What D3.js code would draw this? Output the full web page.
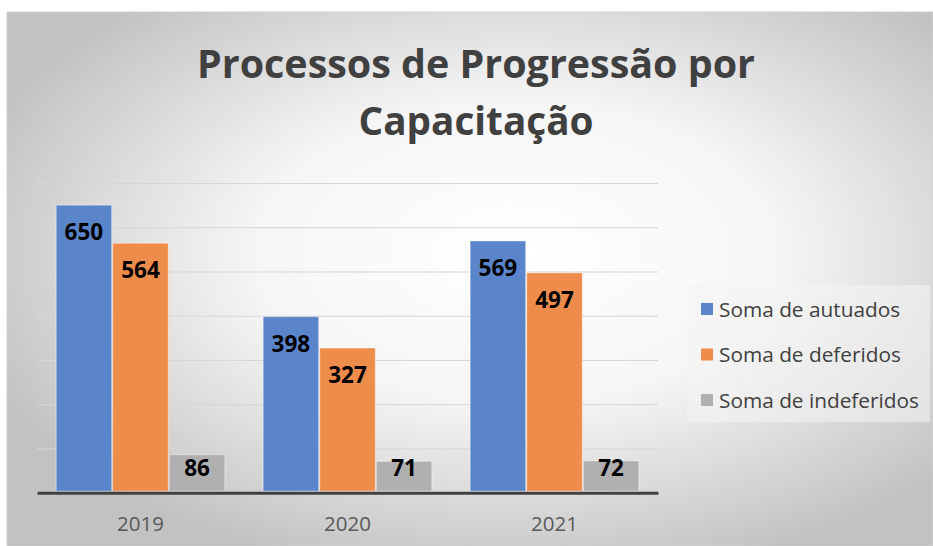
<!DOCTYPE html>
<html>
<head>
<meta charset="utf-8">
<script src="https://cdn.jsdelivr.net/npm/d3@7"></script>
<style>
  html, body { margin: 0; padding: 0; background: #fff; }
  svg { display: block; }
</style>
</head>
<body>
<svg id="chart"></svg>
<script>
const categories = ["2019", "2020", "2021"];
const seriesNames = ["Soma de autuados", "Soma de deferidos", "Soma de indeferidos"];
const autuados = [650, 398, 569];
const deferidos = [564, 327, 497];
const indeferidos = [86, 71, 72];
const yTicks = [0, 100, 200, 300, 400, 500, 600, 700];
const titleLines = ["Processos de Progressão por", "Capacitação"];

const colors = ["#5b85cb", "#ee8c4c", "#b0b0b0"];

const width = 933;
const height = 546;

const svg = d3.select("#chart").attr("width", width).attr("height", height);

// background gradient
const defs = svg.append("defs");
const grad = defs.append("radialGradient")
  .attr("id", "bg")
  .attr("cx", "0.55").attr("cy", "0.45").attr("r", "0.62");
grad.append("stop").attr("offset", "0").attr("stop-color", "#ffffff");
grad.append("stop").attr("offset", "0.45").attr("stop-color", "#f6f6f6");
grad.append("stop").attr("offset", "1").attr("stop-color", "#c2c2c2");

svg.append("rect")
  .attr("x", 7).attr("y", 12)
  .attr("width", width - 7).attr("height", height - 12)
  .attr("fill", "url(#bg)")
  .attr("stroke", "#d0d0d0")
  .attr("stroke-width", 1);

// title
svg.append("g").selectAll("text")
  .data(titleLines)
  .enter()
  .append("text")
  .attr("x", 476)
  .attr("y", (d, i) => 78 + i * 57)
  .attr("text-anchor", "middle")
  .attr("font-family", "'Open Sans', sans-serif")
  .attr("font-weight", "bold")
  .attr("font-size", 38.5)
  .attr("fill", "#404040")
  .attr("textLength", (d, i) => i == 0 ? 558 : 235)
  .attr("lengthAdjust", "spacingAndGlyphs")
  .text(d => d);

// scales
const x0 = d3.scaleBand()
  .domain(categories)
  .range([37, 658])
  .paddingInner(0.18)
  .paddingOuter(0.09);

const x1 = d3.scaleBand()
  .domain(seriesNames)
  .range([0, x0.bandwidth()])
  .padding(0);

const y = d3.scaleLinear()
  .domain([0, 700])
  .range([492.7, 183]);

// gridlines
svg.append("g")
  .attr("transform", "translate(37,0)")
  .call(d3.axisLeft(y).tickValues(yTicks.slice(1)).tickSize(-(658 - 37)).tickFormat(""))
  .call(g => g.select(".domain").remove())
  .call(g => g.selectAll(".tick line").attr("stroke", "#d6d6d6").attr("stroke-width", 1));

const rows = categories.map((c, i) => ({
  cat: c,
  values: [autuados[i], deferidos[i], indeferidos[i]]
}));

const groups = svg.append("g").selectAll("g")
  .data(rows)
  .enter()
  .append("g")
  .attr("transform", d => "translate(" + x0(d.cat) + ",0)");

const bars = groups.selectAll("g")
  .data(d => d.values.map((v, j) => ({ name: seriesNames[j], value: v, j: j })))
  .enter()
  .append("g");

bars.append("rect")
  .attr("x", d => x1(d.name) + 0.5)
  .attr("y", d => y(d.value))
  .attr("width", x1.bandwidth() - 1)
  .attr("height", d => y(0) - y(d.value) - 1.5)
  .attr("fill", d => colors[d.j])
  .attr("stroke", "rgba(255,255,255,0.45)")
  .attr("stroke-width", 1);

// value labels, kept clear of the axis on short bars
bars.append("text")
  .attr("x", d => x1(d.name) + x1.bandwidth() / 2)
  .attr("y", d => Math.min(y(d.value) + 27, 468) + 8)
  .attr("text-anchor", "middle")
  .attr("font-family", "'Open Sans', sans-serif")
  .attr("font-weight", "bold")
  .attr("font-size", 22.5)
  .attr("fill", "#000")
  .text(d => d.value);

// x axis
const xAxis = svg.append("g")
  .attr("transform", "translate(0," + y(0) + ")")
  .call(d3.axisBottom(x0).tickSize(0).tickPadding(0));
xAxis.select(".domain").attr("stroke", "#404040").attr("stroke-width", 3);
xAxis.selectAll("text")
  .attr("dy", 0)
  .attr("y", 38.5)
  .attr("font-family", "'Open Sans', sans-serif")
  .attr("font-size", 20.5)
  .attr("fill", "#595959");

// legend
const legend = svg.append("g");
legend.append("rect")
  .attr("x", 687).attr("y", 285)
  .attr("width", 243).attr("height", 137)
  .attr("fill", "#f4f4f4")
  .attr("opacity", 0.55);

const items = legend.selectAll("g.item")
  .data(seriesNames)
  .enter()
  .append("g")
  .attr("class", "item")
  .attr("transform", (d, i) => "translate(701," + (309 + i * 45.5) + ")");

items.append("rect")
  .attr("x", 0).attr("y", -6)
  .attr("width", 12).attr("height", 12)
  .attr("fill", (d, i) => colors[i]);

items.append("text")
  .attr("x", 18)
  .attr("y", 7.5)
  .attr("font-family", "'Open Sans', sans-serif")
  .attr("font-size", 20.8)
  .attr("fill", "#404040")
  .text(d => d);
</script>
</body>
</html>
